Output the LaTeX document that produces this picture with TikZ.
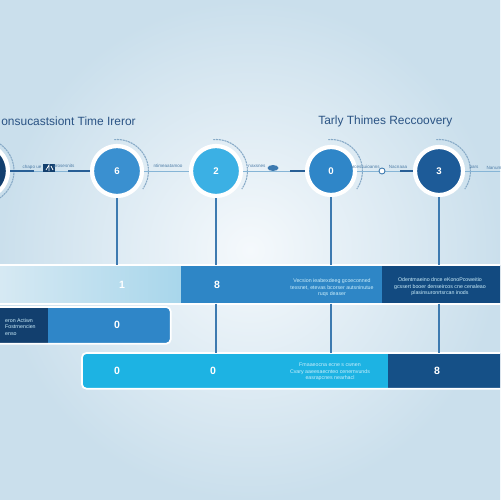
\documentclass[tikz,border=0pt]{standalone}
\usepackage{fontspec}
\setmainfont{Liberation Sans}
\usetikzlibrary{positioning,calc}

\definecolor{navy}{HTML}{123F6E}
\definecolor{titleblue}{HTML}{2A5384}
\definecolor{cblue}{HTML}{3A90D0}
\definecolor{cbright}{HTML}{3BB0E4}
\definecolor{cmid}{HTML}{2F86C8}
\definecolor{cdark}{HTML}{1D5B98}
\definecolor{bandpale}{HTML}{D6E9F3}
\definecolor{bandlight}{HTML}{A8D6EB}
\definecolor{bandmid}{HTML}{2E86C6}
\definecolor{banddark}{HTML}{124A80}
\definecolor{bandcyan}{HTML}{1DB3E3}
\definecolor{lineblue}{HTML}{3D7AB0}
\definecolor{hlineblue}{HTML}{86B5D6}
\definecolor{stubblue}{HTML}{285F96}
\definecolor{noteblue}{HTML}{4D7CA6}
\definecolor{arcgray}{HTML}{86A9C6}
\definecolor{bgedge}{HTML}{CADFEC}
\definecolor{bgmid}{HTML}{F5F9FC}

\begin{document}
\begin{tikzpicture}[
    x=0.02cm, y=-0.02cm,
    circ/.style={circle, draw=white, line width=2.4pt, text=white, inner sep=0pt, font=\fontsize{5.5}{6}\selectfont\bfseries},
    band/.style={rectangle, inner sep=0pt, anchor=north west},
    bandedge/.style={draw=white, line width=1pt},
    num/.style={text=white, font=\fontsize{6}{7}\selectfont\bfseries},
    small/.style={text=white!80!cyan, align=center, font=\fontsize{3}{3.7}\selectfont},
    title/.style={text=titleblue, inner sep=0pt, font=\fontsize{6.8}{8}\selectfont},
    note/.style={text=noteblue, inner sep=0pt, font=\fontsize{2.6}{3}\selectfont},
    vline/.style={draw=lineblue, line width=0.9pt},
    hline/.style={draw=hlineblue, line width=0.5pt},
    stub/.style={draw=stubblue, line width=1.2pt},
    arcline/.style={draw=arcgray, line width=0.6pt, dash pattern=on 1.2pt off 0.4pt}
]

% Background
\useasboundingbox (0,0) rectangle (500,500);
\clip (0,0) rectangle (500,500);
\shade[inner color=bgmid, outer color=bgedge] (0,0) rectangle (500,500);

% Titles
\node[title, anchor=west] (ttlleft) at (1,121) {onsucastsiont Time Ireror};
\node[title, anchor=west] (ttlright) at (318,121) {Tarly Thimes Reccoovery};

% Bands
\node[band, minimum width=3.62cm, minimum height=0.76cm, left color=bandpale, right color=bandlight] (b1a) at (0,265) {};
\node[band, minimum width=4.04cm, minimum height=0.76cm, fill=bandmid] (b1b) at (181,265) {};
\node[band, minimum width=2.4cm, minimum height=0.76cm, fill=banddark] (b1c) at (382,265) {};

\node[band, minimum width=2.6cm, minimum height=0.72cm, fill=cmid, rounded corners=2.5pt] (b2b) at (40,307) {};
\node[band, minimum width=1.16cm, minimum height=0.72cm, fill=navy] (b2a) at (-10,307) {};

\node[band, minimum width=6.28cm, minimum height=0.7cm, fill=bandcyan, rounded corners=2.5pt] (b3a) at (82,353) {};
\node[band, minimum width=2.4cm, minimum height=0.7cm, fill=banddark!90!cmid] (b3b) at (388,353) {};

\draw[bandedge] (b1a.north west) -- (b1c.north east);
\draw[bandedge] (b1a.south west) -- (b1c.south east);
\draw[bandedge, rounded corners=2.5pt] (b2a.north west) -- (b2b.north east) -- (b2b.south east) -- (b2a.south west);
\draw[bandedge, rounded corners=2.5pt] (b3b.north east) -- (b3a.north west) -- (b3a.south west) -- (b3b.south east);

% Band labels
\node[num] (n1) at (122,285) {1};
\node[num] (n8a) at (217,285) {8};
\node[small] (txt1) at (332,288) {Vecsion ieabexdeeg gcoeconned\\texsnet, etevas bcorser autsninutue\\ruqs deaser};
\node[small] (txt2) at (440,287) {Odentmaeino dnce eKonoPcoweitio\\gcssert booer denseircos cne cenaleao\\plasinsuronrtsrcan inods};
\node[small, anchor=west, align=left] (txt3) at (-1,327) {eron Actiwn\\Fostrnencien\\enso};
\node[num] (n0a) at (117,325) {0};
\node[num] (n0b) at (117,371) {0};
\node[num] (n0c) at (213,371) {0};
\node[small] (txt4) at (330,372) {Fmaaeocna ecne s cwnen\\Cvary aaeesaecnteo cenernvunds\\easrapcnes nearhacl};
\node[num] (n8b) at (437,371) {8};

% Milestones
\node[circ, fill=navy, minimum size=1.08cm] (c0) at (-19,171) {};
\node[circ, fill=cblue, minimum size=1cm] (c1) at (117,171) {6};
\node[circ, fill=cbright, minimum size=1cm] (c2) at (216,171) {2};
\node[circ, fill=cmid, minimum size=0.96cm] (c3) at (331,171) {0};
\node[circ, fill=cdark, minimum size=0.96cm] (c4) at (439,171) {3};
\coordinate (rend) at (505,171);

% Arcs round the milestones
\draw[arcline] ($(c0.center)+(70:0.66cm)$) arc[start angle=70, end angle=-60, radius=0.66cm];
\foreach \c in {c1,c2,c3,c4}
    \draw[arcline] ($(\c.center)+(95:0.63cm)$) arc[start angle=95, end angle=-35, radius=0.63cm];

% Timeline
\draw[hline] (c0) -- (c1);
\draw[hline] (c1) -- (c2);
\draw[hline] (c2) -- (c3);
\draw[hline] (c3) -- (c4);
\draw[hline] (c4) -- (rend);
\draw[stub] (c0.east) -- ++(24,0);
\draw[stub] (c1.west) -- ++(-22,0);
\draw[stub] (c3.west) -- ++(-15,0);
\draw[stub] (c4.west) -- ++(-13,0);

% Drops to the bands
\draw[vline] (c1) -- (c1 |- b1a.north);
\draw[vline] (c2) -- (c2 |- b1b.north);
\draw[vline] (c3) -- (c3 |- b1b.north);
\draw[vline] (c4) -- (c4 |- b1c.north);
\draw[vline] (c2 |- b1b.south) -- (c2 |- b3a.north);
\draw[vline] (c3 |- b1b.south) -- (c3 |- b3a.north);
\draw[vline] (c4 |- b1c.south) -- (c4 |- b3b.north);

% Small marks on the line
\fill[navy] (43,164) rectangle (55,172);
\draw[white, line width=0.4pt] (46,170) -- (49,165) -- (49,171) (51,166) -- (53,170);
\fill[lineblue] (273,168) ellipse [x radius=0.11cm, y radius=0.06cm];
\draw[lineblue, line width=0.5pt, fill=white] (382,171) circle [radius=0.06cm];

% Notes
\node[note] (nt1) at (32,167) {chapo ue};
\node[note] (nt2) at (64,166) {prosesnits};
\node[note] (nt3) at (168,166) {ntimeaatamoo};
\node[note] (nt4) at (257,166) {naxsnes};
\node[note] (nt5) at (365,167) {arcessuioanns};
\node[note] (nt6) at (398,167) {Nacnaaa};
\node[note] (nt7) at (474,168) {pars};
\node[note] (nt8) at (494,168) {Nanum};

\end{tikzpicture}
\end{document}
